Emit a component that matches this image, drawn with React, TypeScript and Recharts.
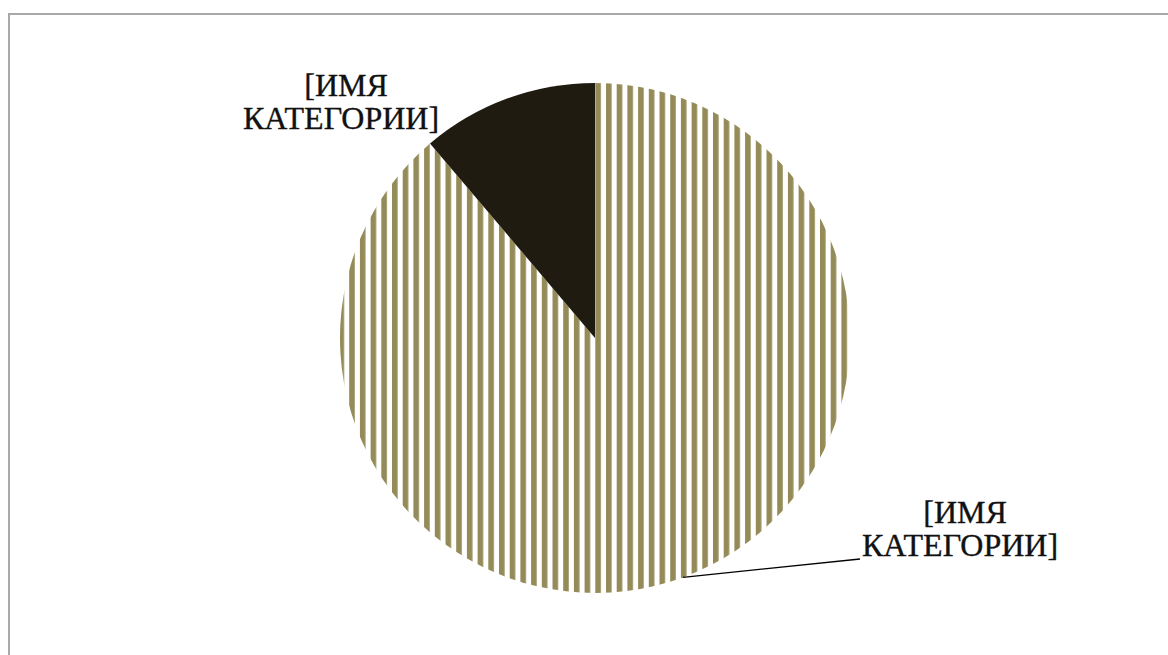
import { PieChart, Pie, Cell } from "recharts";

// two slices
const categories = ["[ИМЯ КАТЕГОРИИ]", "[ИМЯ КАТЕГОРИИ]"];
const shares = [88.8, 11.2];

const data = categories.map((name, i) => ({ name, value: shares[i] }));

const OLIVE = "#958b58";
const DARK = "#1f1b10";
const fills = ["url(#oliveStripes)", DARK];
const SERIF = "'Liberation Serif', 'Times New Roman', serif";

// where each label sits, relative to the pie centre
const labelSpots = [
  { dx: 365, dy: 185, lineTo: { dx: 265, dy: 221 } },
  { dx: -254, dy: -242, lineTo: null },
];

const RAD = Math.PI / 180;

function renderLabel(props: any) {
  const { cx, cy, midAngle, outerRadius, index, name } = props;
  const spot = labelSpots[index];
  const words = String(name).split(" ");
  const x = cx + spot.dx;
  const y = cy + spot.dy;
  let leader = null;
  if (spot.lineTo) {
    const sx = cx + outerRadius * Math.cos(-midAngle * RAD);
    const sy = cy + outerRadius * Math.sin(-midAngle * RAD);
    leader = (
      <line
        x1={sx}
        y1={sy}
        x2={cx + spot.lineTo.dx}
        y2={cy + spot.lineTo.dy}
        stroke="#000"
        strokeWidth={1.3}
      />
    );
  }
  return (
    <g key={`lbl-${index}`}>
      {leader}
      <text
        x={x}
        y={y}
        textAnchor="middle"
        fill="#111"
        stroke="#111"
        strokeWidth={0.35}
        fontFamily={SERIF}
        fontSize={32}
      >
        <tspan x={x + 5} y={y}>
          {words[0]}
        </tspan>
        <tspan x={x} y={y + 33}>
          {words.slice(1).join(" ")}
        </tspan>
      </text>
    </g>
  );
}

export default function App() {
  return (
    <div
      style={{
        position: "absolute",
        left: 0,
        top: 0,
        width: 1168,
        height: 655,
        overflow: "hidden",
        background: "#fff",
      }}
    >
      <div
        style={{
          position: "absolute",
          left: 8,
          top: 13,
          width: 1200,
          height: 700,
          border: "2px solid #a9a9a9",
        }}
      />
      <div style={{ position: "absolute", left: 0, top: 0 }}>
        <PieChart
          width={1168}
          height={655}
          margin={{ top: 0, right: 0, bottom: 0, left: 0 }}
        >
          <defs>
            <pattern
              id="oliveStripes"
              patternUnits="userSpaceOnUse"
              x={6.8}
              y={0}
              width={10.7}
              height={20}
            >
              <rect x={0} y={0} width={10.7} height={20} fill="#fff" />
              <rect x={0} y={0} width={5.6} height={20} fill={OLIVE} />
            </pattern>
          </defs>
          <Pie
            data={data}
            dataKey="value"
            nameKey="name"
            cx={595}
            cy={338}
            outerRadius={255}
            startAngle={90}
            endAngle={-270}
            stroke="none"
            label={renderLabel}
            labelLine={false}
            isAnimationActive={false}
          >
            {data.map((d, i) => (
              <Cell key={`c-${i}`} fill={fills[i]} />
            ))}
          </Pie>
        </PieChart>
      </div>
    </div>
  );
}
